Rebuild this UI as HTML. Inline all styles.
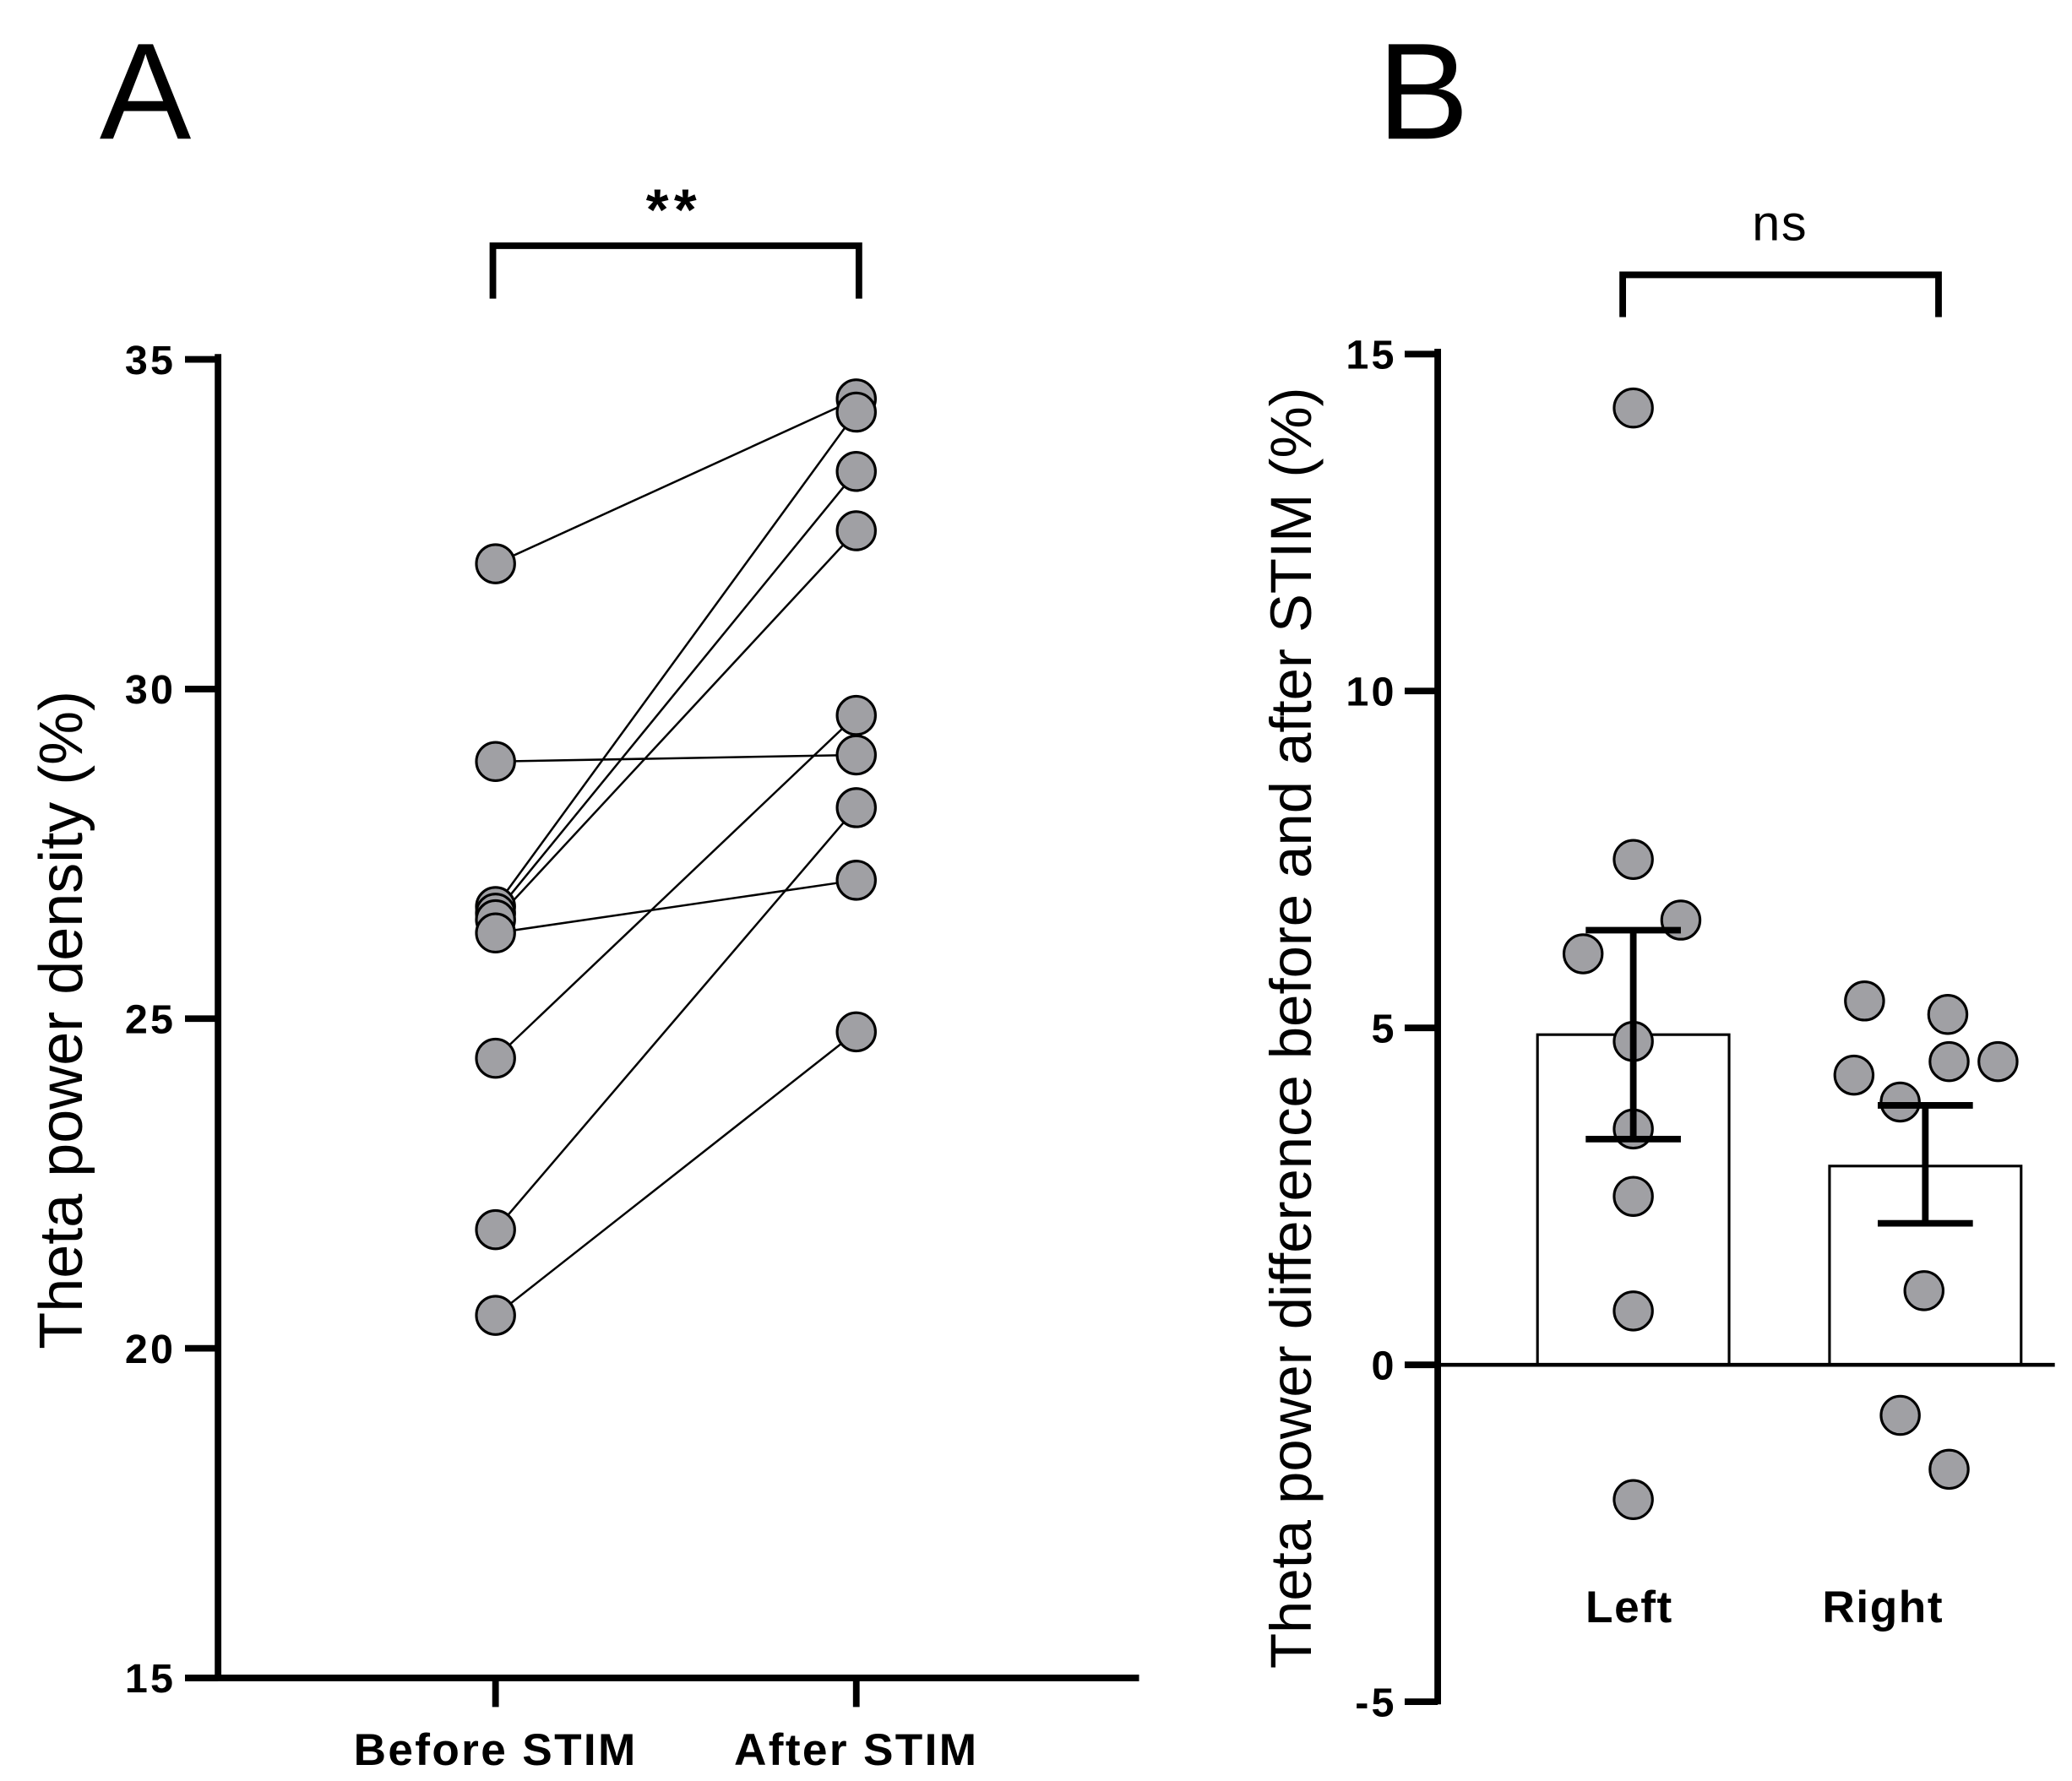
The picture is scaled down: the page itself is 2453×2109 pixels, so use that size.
<!DOCTYPE html>
<html><head><meta charset="utf-8"><style>
html,body{margin:0;padding:0;background:#fff;}
svg{display:block;}
text{font-family:"Liberation Sans",sans-serif;}
</style></head><body>
<svg id="fig" width="2453" height="2109" viewBox="0 0 1568 1348" preserveAspectRatio="none" xmlns="http://www.w3.org/2000/svg">
<text x="110" y="105" font-size="104" text-anchor="middle">A</text>
<text x="1077" y="105" font-size="104" text-anchor="middle">B</text>
<g id="pa"></g>
<g id="pb"></g>
</svg>
<script>
const aCategories = ['Before STIM','After STIM'];
const aBefore = [31.9, 28.9, 26.7, 26.6, 26.5, 26.3, 24.4, 21.8, 20.5];
const aAfter  = [34.4, 29.0, 34.2, 33.3, 32.4, 27.1, 29.6, 28.2, 24.8];
const aTicks = [15,20,25,30,35];
const bCategories = ['Left','Right'];
const bMeans = [4.9, 2.95];
const bErrLow = [3.35, 2.1];
const bErrHigh = [6.45, 3.85];
const bLeftPts = [14.2, 7.5, 6.6, 6.1, 4.8, 3.5, 2.5, 0.8, -2.0];
const bRightPts = [5.4, 5.2, 4.3, 4.5, 4.5, 3.9, 1.1, -0.75, -1.55];
const bTicks = [-5,0,5,10,15];

const NS='http://www.w3.org/2000/svg';
function mk(parent,tag,attrs,txt){const e=document.createElementNS(NS,tag);for(const k in attrs)e.setAttribute(k,attrs[k]);if(txt!==undefined)e.textContent=txt;parent.appendChild(e);return e;}

// Panel A
const pa=document.getElementById('pa');
const ay=v=>1270-(v-15)*(1270-272)/20;
const ax=i=>[375,648][i];
let e;
e=mk(pa,'line',{x1:165,y1:268,x2:165,y2:1272,stroke:'#000','stroke-width':5});

e=mk(pa,'line',{x1:140,y1:1270,x2:862,y2:1270,stroke:'#000','stroke-width':5});

aTicks.forEach(t=>{
  e=mk(pa,'line',{x1:140,y1:ay(t),x2:165,y2:ay(t),stroke:'#000','stroke-width':5});
  
  e=mk(pa,'text',{x:133,y:ay(t)+11,'font-size':31,'font-weight':'bold','text-anchor':'end','letter-spacing':2},String(t));
  
});
aCategories.forEach((c,i)=>{
  e=mk(pa,'line',{x1:ax(i),y1:1270,x2:ax(i),y2:1292,stroke:'#000','stroke-width':5});
  
  e=mk(pa,'text',{x:ax(i),y:1336,'font-size':34,'font-weight':'bold','text-anchor':'middle','letter-spacing':1.5},c);
  
});
e=mk(pa,'text',{x:0,y:0,'font-size':46,'text-anchor':'middle',transform:'translate(62,772) rotate(-90)'},'Theta power density (%)');

e=mk(pa,'path',{d:'M373 226 V186 H650 V226',fill:'none',stroke:'#000','stroke-width':5});

e=mk(pa,'text',{x:510,y:174,'font-size':44,'font-weight':'bold','text-anchor':'middle','letter-spacing':4},'**');

aBefore.forEach((b,i)=>{
  e=mk(pa,'line',{x1:ax(0),y1:ay(b),x2:ax(1),y2:ay(aAfter[i]),stroke:'#000','stroke-width':1.6});
  
});
aBefore.forEach((b,i)=>{
  e=mk(pa,'circle',{cx:ax(0),cy:ay(b),r:14.5,fill:'#a0a0a4',stroke:'#000','stroke-width':2});
  
  e=mk(pa,'circle',{cx:ax(1),cy:ay(aAfter[i]),r:14.5,fill:'#a0a0a4',stroke:'#000','stroke-width':2});
  
});

// Panel B
const pb=document.getElementById('pb');
const by=v=>1033-v*(1033-268)/15;
const bx=i=>[1236,1457][i];
const bw=145;
e=mk(pb,'line',{x1:1088,y1:264,x2:1088,y2:1290,stroke:'#000','stroke-width':5});

bTicks.forEach(t=>{
  e=mk(pb,'line',{x1:1063,y1:by(t),x2:1088,y2:by(t),stroke:'#000','stroke-width':5});
  
  e=mk(pb,'text',{x:1057,y:by(t)+11,'font-size':31,'font-weight':'bold','text-anchor':'end','letter-spacing':2},String(t));
  
});
const lblx=[1233,1425];
bCategories.forEach((c,i)=>{
  e=mk(pb,'rect',{x:bx(i)-bw/2,y:by(bMeans[i]),width:bw,height:by(0)-by(bMeans[i]),fill:'#fff',stroke:'#000','stroke-width':2});
  
  e=mk(pb,'text',{x:lblx[i],y:1228,'font-size':34,'font-weight':'bold','text-anchor':'middle','letter-spacing':1},c);
  
});
e=mk(pb,'line',{x1:1088,y1:1033,x2:1555,y2:1033,stroke:'#000','stroke-width':3});

const lx=[0,0,36,-38,0,0,0,0,0];
const rx=[-46,17,-54,18,55,-19,-1,-19,18];
bLeftPts.forEach((v,i)=>{
  e=mk(pb,'circle',{cx:bx(0)+lx[i],cy:by(v),r:14.5,fill:'#a0a0a4',stroke:'#000','stroke-width':2});
  
});
bRightPts.forEach((v,i)=>{
  e=mk(pb,'circle',{cx:bx(1)+rx[i],cy:by(v),r:14.5,fill:'#a0a0a4',stroke:'#000','stroke-width':2});
  
});
bCategories.forEach((c,i)=>{
  e=mk(pb,'path',{d:`M${bx(i)-36} ${by(bErrLow[i])} H${bx(i)+36} M${bx(i)} ${by(bErrLow[i])} V${by(bErrHigh[i])} M${bx(i)-36} ${by(bErrHigh[i])} H${bx(i)+36}`,fill:'none',stroke:'#000','stroke-width':5});
  
});
e=mk(pb,'text',{x:0,y:0,'font-size':44,'text-anchor':'middle',transform:'translate(992,778) rotate(-90)'},'Theta power difference before and after STIM (%)');

e=mk(pb,'path',{d:'M1228 240 V208 H1467 V240',fill:'none',stroke:'#000','stroke-width':5});

e=mk(pb,'text',{x:1347,y:182,'font-size':38,'text-anchor':'middle','letter-spacing':1},'ns');

</script>
</body></html>
